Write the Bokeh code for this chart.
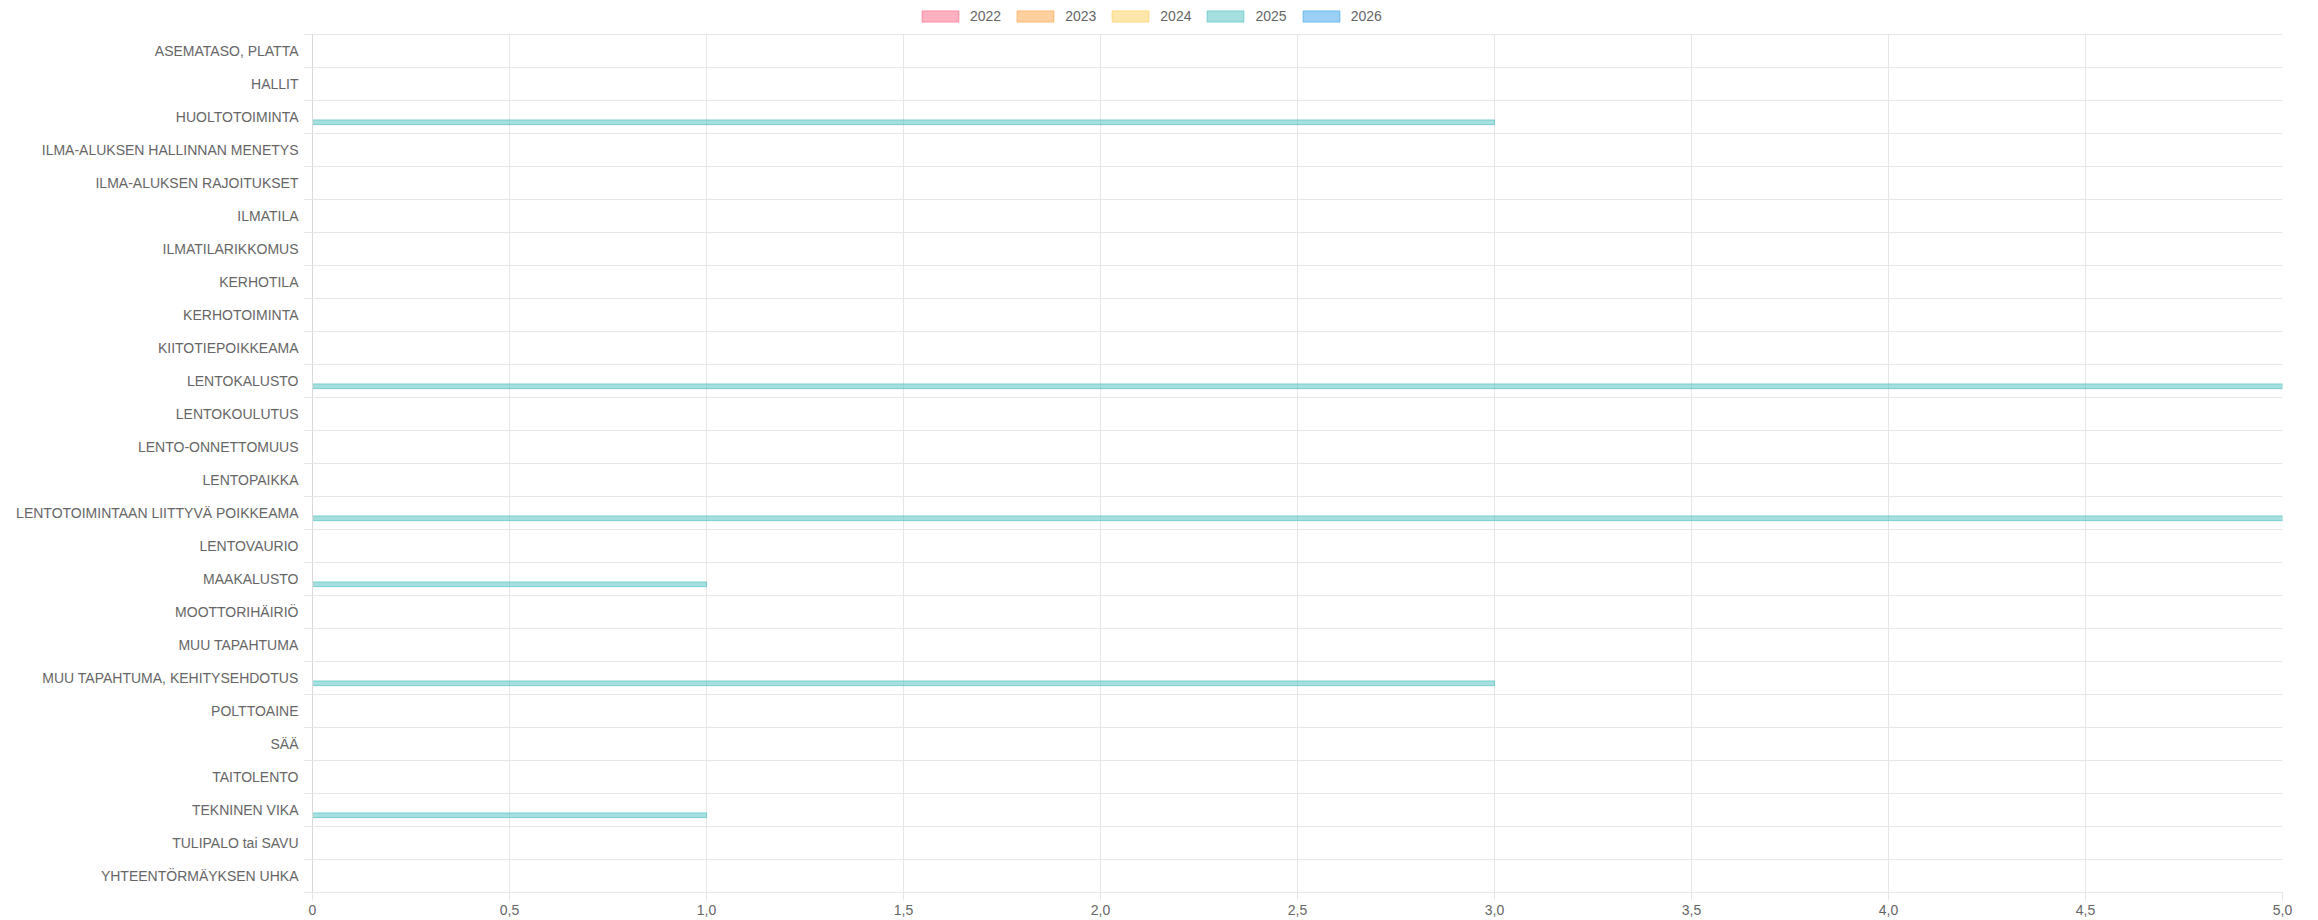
from bokeh.plotting import figure
from bokeh.models import (ColumnDataSource, Range1d, FixedTicker, CustomJSTickFormatter,
                          Legend, LegendItem)
from bokeh.embed import file_html
from bokeh.resources import INLINE

categories = [
    "ASEMATASO, PLATTA",
    "HALLIT",
    "HUOLTOTOIMINTA",
    "ILMA-ALUKSEN HALLINNAN MENETYS",
    "ILMA-ALUKSEN RAJOITUKSET",
    "ILMATILA",
    "ILMATILARIKKOMUS",
    "KERHOTILA",
    "KERHOTOIMINTA",
    "KIITOTIEPOIKKEAMA",
    "LENTOKALUSTO",
    "LENTOKOULUTUS",
    "LENTO-ONNETTOMUUS",
    "LENTOPAIKKA",
    "LENTOTOIMINTAAN LIITTYVÄ POIKKEAMA",
    "LENTOVAURIO",
    "MAAKALUSTO",
    "MOOTTORIHÄIRIÖ",
    "MUU TAPAHTUMA",
    "MUU TAPAHTUMA, KEHITYSEHDOTUS",
    "POLTTOAINE",
    "SÄÄ",
    "TAITOLENTO",
    "TEKNINEN VIKA",
    "TULIPALO tai SAVU",
    "YHTEENTÖRMÄYKSEN UHKA",
]

years = ["2022", "2023", "2024", "2025", "2026"]

v2022 = [0, 0, 0, 0, 0, 0, 0, 0, 0, 0, 0, 0, 0, 0, 0, 0, 0, 0, 0, 0, 0, 0, 0, 0, 0, 0]
v2023 = [0, 0, 0, 0, 0, 0, 0, 0, 0, 0, 0, 0, 0, 0, 0, 0, 0, 0, 0, 0, 0, 0, 0, 0, 0, 0]
v2024 = [0, 0, 0, 0, 0, 0, 0, 0, 0, 0, 0, 0, 0, 0, 0, 0, 0, 0, 0, 0, 0, 0, 0, 0, 0, 0]
v2025 = [0, 0, 3, 0, 0, 0, 0, 0, 0, 0, 5, 0, 0, 0, 5, 0, 1, 0, 0, 3, 0, 0, 0, 1, 0, 0]
v2026 = [0, 0, 0, 0, 0, 0, 0, 0, 0, 0, 0, 0, 0, 0, 0, 0, 0, 0, 0, 0, 0, 0, 0, 0, 0, 0]

x_ticks = [0, 0.5, 1.0, 1.5, 2.0, 2.5, 3.0, 3.5, 4.0, 4.5, 5.0]
x_tick_labels = ["0", "0,5", "1,0", "1,5", "2,0", "2,5", "3,0", "3,5", "4,0", "4,5", "5,0"]

series = [v2022, v2023, v2024, v2025, v2026]
fills = ["rgba(255,99,132,0.5)", "rgba(255,159,64,0.5)", "rgba(255,205,86,0.5)",
         "rgba(75,192,192,0.5)", "rgba(54,162,235,0.5)"]
lines = ["rgb(255,99,132)", "rgb(255,159,64)", "rgb(255,205,86)",
         "rgb(75,192,192)", "rgb(54,162,235)"]

FONT = "Liberation Sans"
TXT = "#666666"
GRID = "#e6e6e6"
FS = "14px"
n = len(categories)

ROW_PX = 33.0       # pixel height of one category row
TOP_PX = 34.0       # space above the first row (legend area)
top_extra = TOP_PX / ROW_PX

p = figure(width=2318, height=920, output_backend="svg", toolbar_location=None,
           x_range=Range1d(0, 5), y_range=Range1d(n, -top_extra),
           min_border_left=312, min_border_right=36, min_border_top=0, min_border_bottom=28)
p.outline_line_color = None
p.background_fill_color = "white"
p.border_fill_color = "white"

slot = 0.8 / len(years)
bar_h = slot * 0.9
items = []
for k, (yr, vals) in enumerate(zip(years, series)):
    ys = [i + 0.5 + (k - (len(years) - 1) / 2) * slot for i in range(n)]
    hs = [bar_h if v != 0 else 0 for v in vals]
    src = ColumnDataSource(dict(y=ys, right=vals, h=hs, cat=categories))
    r = p.hbar(y="y", left=0, right="right", height="h", source=src,
               fill_color=fills[k], line_color=lines[k], line_width=1, line_alpha=0.6)
    items.append(LegendItem(label=yr, renderers=[r], index=0))

# grids
p.xgrid.ticker = FixedTicker(ticks=x_ticks)
p.xgrid.grid_line_color = GRID
p.xgrid.cross_bounds = (0, n)
p.ygrid.ticker = FixedTicker(ticks=list(range(n + 1)))
p.ygrid.grid_line_color = GRID

# x axis
xa = p.xaxis[0]
xa.ticker = FixedTicker(ticks=x_ticks)
xa.formatter = CustomJSTickFormatter(args=dict(labels=x_tick_labels),
                                     code="return labels[Math.round(tick*2)];")
xa.axis_line_color = GRID
xa.major_tick_line_color = GRID
xa.major_tick_out = 8
xa.major_tick_in = 0
xa.minor_tick_line_color = None
xa.major_label_standoff = 4
xa.major_label_text_font = FONT
xa.major_label_text_font_size = FS
xa.major_label_text_color = TXT

# y axis
ya = p.yaxis[0]
ya.bounds = (0, n)
ya.ticker = FixedTicker(ticks=[i + 0.5 for i in range(n)], minor_ticks=list(range(n + 1)))
ya.formatter = CustomJSTickFormatter(args=dict(labels=categories),
                                     code="return labels[Math.floor(tick)];")
ya.axis_line_color = "#d9d9d9"
ya.major_tick_line_color = None
ya.major_tick_out = 0
ya.major_tick_in = 0
ya.minor_tick_line_color = GRID
ya.minor_tick_out = 9
ya.minor_tick_in = 0
ya.major_label_standoff = 5
ya.major_label_text_font = FONT
ya.major_label_text_font_size = FS
ya.major_label_text_color = TXT

legend = Legend(items=items, orientation="horizontal", location=(605, 868),
                glyph_width=46, glyph_height=14, label_standoff=7, spacing=11,
                padding=0, margin=0, border_line_color=None, background_fill_alpha=0,
                label_text_font=FONT, label_text_font_size=FS, label_text_color=TXT,
                label_height=14)
p.add_layout(legend, "center")

open("out.html", "w").write(file_html(p, INLINE))
